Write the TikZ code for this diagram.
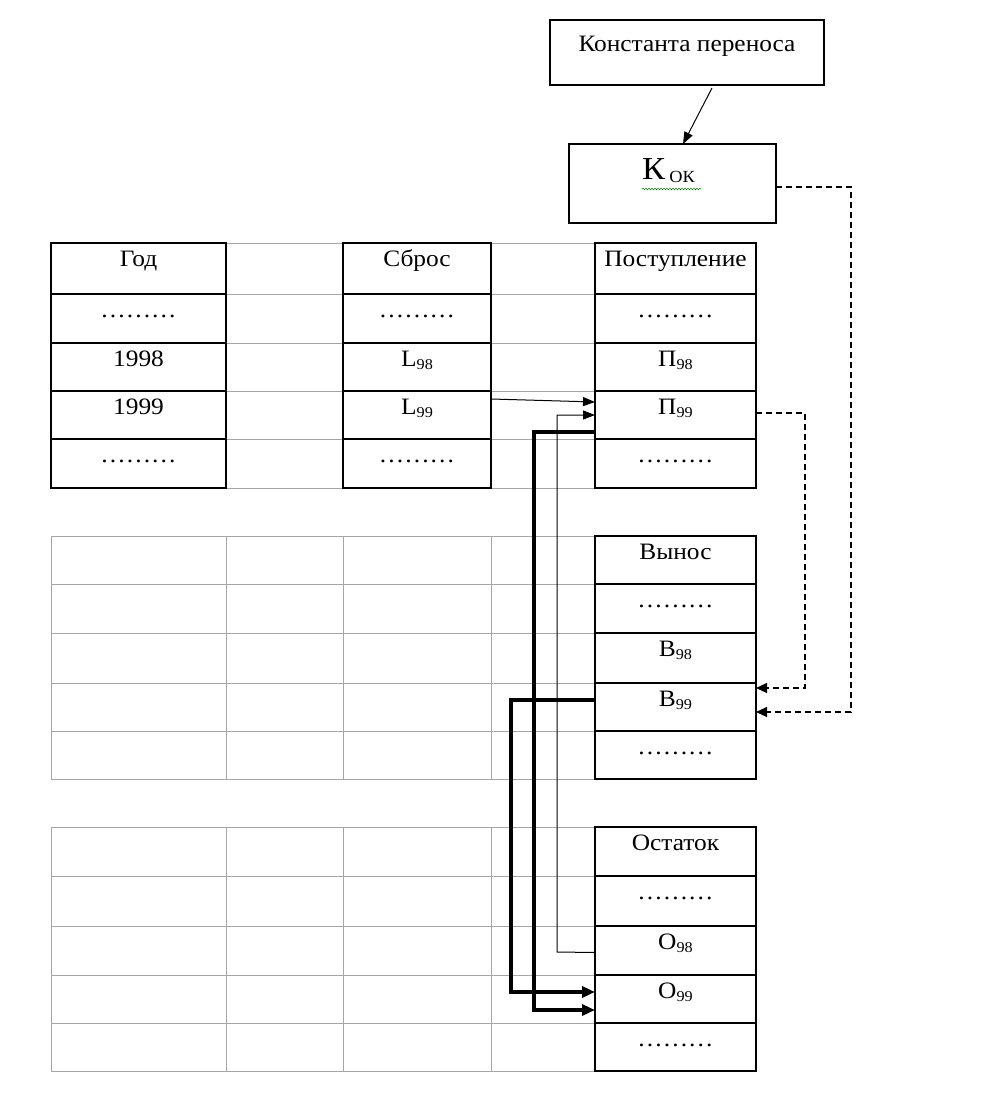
\documentclass[tikz,border=0pt]{standalone}
\usepackage{fontspec}
\setmainfont[FakeStretch=1.08]{Liberation Serif}
\usetikzlibrary{arrows.meta,decorations.pathmorphing}
\newcommand\mkcell[6]{%
 \node[cellbox,minimum width={(#4-#2)*1pt},minimum height={(#5-#3)*1pt}] (#1) at ({(#2+#4)/2},{(#3+#5)/2}) {};
 \node[celltext] (#1t) at ([yshift=-23pt]#1.north) {#6};}
\newcommand\sub[2]{#1\raisebox{-3.5pt}{\fontsize{15}{15}\selectfont #2}}
\newcommand\dts{\char"2026\char"2026\char"2026}
\begin{document}
\begin{tikzpicture}[x=1pt,y=-1pt,
  cellbox/.style={draw=black,line width=1.5pt,inner sep=0pt,outer sep=0pt},
  celltext/.style={anchor=base,inner sep=0pt,font=\fontsize{23.5}{24}\selectfont},
  gridline/.style={draw=gray!70,line width=0.9pt},
  thinarrow/.style={line width=1pt,-{Triangle[length=12pt,width=9pt]}},
  thickarrow/.style={line width=3.4pt,line join=miter,-{Triangle[length=13pt,width=11pt]}},
  dasharrow/.style={line width=1.2pt,dash pattern=on 6pt off 4pt,-{Triangle[length=11pt,width=10pt]}}]
\useasboundingbox[fill=white] (0,0) rectangle (987,1107);
% grey grids
\foreach \ya/\yb in {243/488,536/779,827/1071}{
  \foreach \x in {51,226,343,491,595,756} \draw[gridline] (\x,\ya) -- (\x,\yb);
}
\foreach \y in {243,294,343,391,439,488,536,584,633,683,731,779,827,876,926,975,1023,1071}
  \draw[gridline] (51,\y) -- (756,\y);
% top boxes
\node[cellbox,minimum width=274pt,minimum height=65pt] (const) at (687,52.5) {};
\node[celltext] (constt) at (687,52) {Константа переноса};
\node[cellbox,minimum width=207pt,minimum height=79pt] (kok) at (672.5,183.5) {};
\node[anchor=base west,inner sep=0pt] (kokt) at (642,180) {{\fontsize{32}{32}\selectfont К}\hspace{4pt}{\fontsize{17}{17}\selectfont\raisebox{-2.5pt}{ОК}}};
\draw[decorate,decoration={snake,segment length=3pt,amplitude=0.8pt},green!50!black,line width=0.5pt] (642,189) -- (701,189);
% table 1
\mkcell{g0}{51}{243}{226}{294}{Год}
\mkcell{g1}{51}{294}{226}{343}{\dts}
\mkcell{g2}{51}{343}{226}{391}{1998}
\mkcell{g3}{51}{391}{226}{439}{1999}
\mkcell{g4}{51}{439}{226}{488}{\dts}
\mkcell{s0}{343}{243}{491}{294}{Сброс}
\mkcell{s1}{343}{294}{491}{343}{\dts}
\mkcell{s2}{343}{343}{491}{391}{\sub{L}{98}}
\mkcell{s3}{343}{391}{491}{439}{\sub{L}{99}}
\mkcell{s4}{343}{439}{491}{488}{\dts}
\mkcell{p0}{595}{243}{756}{294}{Поступление}
\mkcell{p1}{595}{294}{756}{343}{\dts}
\mkcell{p2}{595}{343}{756}{391}{\sub{П}{98}}
\mkcell{p3}{595}{391}{756}{439}{\sub{П}{99}}
\mkcell{p4}{595}{439}{756}{488}{\dts}
% table 2
\mkcell{v0}{595}{536}{756}{584}{Вынос}
\mkcell{v1}{595}{584}{756}{633}{\dts}
\mkcell{v2}{595}{633}{756}{683}{\sub{В}{98}}
\mkcell{v3}{595}{683}{756}{731}{\sub{В}{99}}
\mkcell{v4}{595}{731}{756}{779}{\dts}
% table 3
\mkcell{o0}{595}{827}{756}{876}{Остаток}
\mkcell{o1}{595}{876}{756}{926}{\dts}
\mkcell{o2}{595}{926}{756}{975}{\sub{О}{98}}
\mkcell{o3}{595}{975}{756}{1023}{\sub{О}{99}}
\mkcell{o4}{595}{1023}{756}{1071}{\dts}
% connectors
\draw[thinarrow] ([xshift=25pt,yshift=-3pt]const.south) -- ([xshift=10.5pt]kok.north);
\draw[dasharrow] ([yshift=-3.5pt]kok.east) -| (851,712) -- ([yshift=-5pt]v3.east);
\draw[dasharrow] ([yshift=2pt]p3.east) -- (805,413) |- ([yshift=19pt]v3.east);
\draw[thinarrow] ([yshift=16pt]s3.east) -- ([yshift=13pt]p3.west);
\draw[thinarrow] ([yshift=-2pt]o2.west) -- (557,952) |- (p3.west);
\draw[thickarrow] ([yshift=-17pt]p3.west) -- (534,432) |- ([yshift=-11pt]o3.west);
\draw[thickarrow] ([yshift=7pt]v3.west) -- (511,700) |- ([yshift=7pt]o3.west);
\end{tikzpicture}
\end{document}
